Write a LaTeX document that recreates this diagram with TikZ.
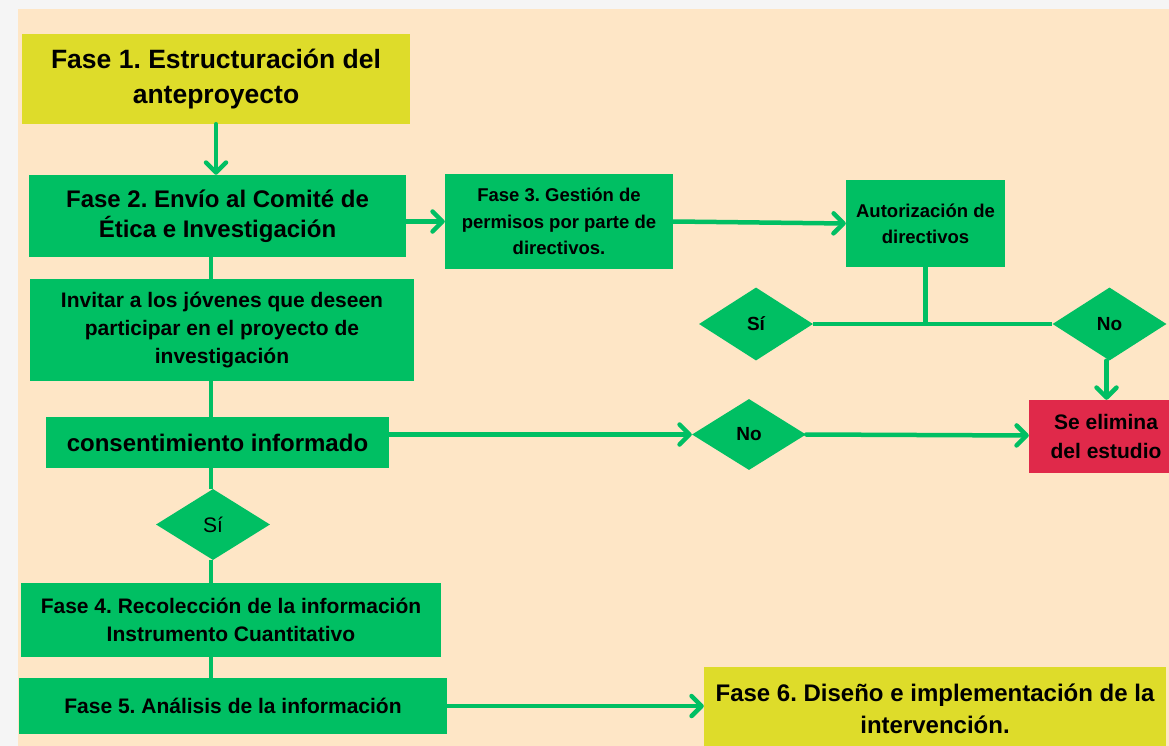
\documentclass[tikz,border=0pt]{standalone}
\usepackage{fontspec}
\setmainfont{Liberation Sans}
\usetikzlibrary{shapes.geometric,arrows.meta}
\frenchspacing
\definecolor{gfill}{HTML}{00BF63}
\definecolor{yfill}{HTML}{DEDC2A}
\definecolor{rfill}{HTML}{E0294A}
\definecolor{peach}{HTML}{FEE6C6}
\definecolor{outer}{HTML}{F5F5F5}
\tikzset{
  box/.style={rectangle, inner sep=0pt, align=center, font=\bfseries},
  gbox/.style={box, fill=gfill},
  ybox/.style={box, fill=yfill},
  rbox/.style={box, fill=rfill},
  dia/.style={diamond, fill=gfill, inner sep=0pt, minimum width=114pt, minimum height=73pt},
  conn/.style={draw=gfill, line width=4.5pt},
  arr/.style={conn, line cap=round, -{Straight Barb[length=10pt,width=20pt,round]}},
  fs/.style 2 args={font=\frenchspacing\bfseries\fontsize{#1}{#2}\selectfont}
}
\begin{document}
\begin{tikzpicture}[x=1pt,y=-1pt]
\useasboundingbox (0,0) rectangle (1169,746);
\fill[outer] (0,0) rectangle (1169,746);
\fill[peach] (18,9) rectangle (1169,746);

\node[ybox, fs={26.5}{35}, minimum width=388pt, minimum height=90pt] (f1) at (216,79) {Fase 1. Estructuración del\\anteproyecto};
\node[gbox, fs={24}{30}, minimum width=377pt, minimum height=82pt] (f2) at (217.5,216) {Fase 2. Envío al Comité de\\Ética e Investigación};
\node[gbox, fs={18.5}{26.5}, minimum width=228pt, minimum height=95pt] (f3) at (559,221.5) {Fase 3. Gestión de\\permisos por parte de\\directivos.};
\node[gbox, fs={18.5}{26}, minimum width=159pt, minimum height=87pt] (aut) at (925.5,223.5) {Autorización de\\directivos};
\node[dia, fs={19}{23}] (si1) at (756,324) {Sí};
\node[dia, fs={19}{23}] (no1) at (1109.5,324) {No};
\node[rbox, fs={21}{28.5}, minimum width=154pt, minimum height=73pt] (elim) at (1106,436.5) {Se elimina\\del estudio};
\node[gbox, fs={21}{28}, minimum width=384pt, minimum height=102pt] (inv) at (222,330) {Invitar a los jóvenes que deseen\\participar en el proyecto de\\investigación};
\node[gbox, fs={24}{30}, minimum width=343pt, minimum height=51pt] (cons) at (217.5,442.5) {consentimiento informado};
\node[dia, fs={19}{23}, minimum height=71pt] (no2) at (749,434.5) {No};
\node[dia, font=\fontsize{21}{25}\selectfont, minimum height=71pt] (si2) at (213,524.5) {Sí};
\node[gbox, fs={21}{28}, minimum width=420pt, minimum height=74pt] (f4) at (231,620) {Fase 4. Recolección de la información\\Instrumento Cuantitativo};
\node[gbox, fs={21}{28}, minimum width=428pt, minimum height=56pt] (f5) at (233,706) {Fase 5. Análisis de la información};
\node[ybox, fs={24}{32}, minimum width=462pt, minimum height=84pt] (f6) at (935,709) {Fase 6. Diseño e implementación de la\\intervención.};

\coordinate (sp) at (211,0);

\draw[arr] (f1.south) -- (f1.south |- f2.north);
\draw[conn] (sp |- f2.south) -- (sp |- inv.north);
\draw[conn] (sp |- inv.south) -- (sp |- cons.north);
\draw[conn] (sp |- cons.south) -- (sp |- si2.north);
\draw[conn] (sp |- si2.south) -- (sp |- f4.north);
\draw[conn] (sp |- f4.south) -- (sp |- f5.north);

\draw[arr] (f2.east |- f3.west) -- (f3.west);
\draw[arr] (f3.east) -- (aut.west);
\draw[conn] (aut.south) -- (aut.south |- si1.east);
\draw[conn] (si1.east) -- (no1.west);
\draw[arr] ([xshift=-3pt]no1.south) -- ([xshift=-3pt]no1.south |- elim.north);
\draw[arr] (cons.east |- no2.west) -- (no2.west);
\draw[arr] (no2.east) -- ([yshift=1pt]elim.west);
\draw[arr] (f5.east) -- (f5.east -| f6.west);
\end{tikzpicture}
\end{document}
